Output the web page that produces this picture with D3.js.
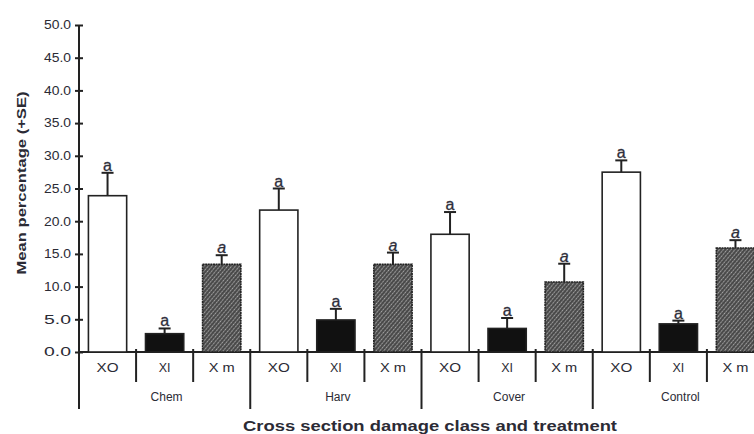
<!DOCTYPE html>
<html><head><meta charset="utf-8">
<script src="https://cdn.jsdelivr.net/npm/d3@7"></script>
<style>body{margin:0;background:#fff}svg{display:block}text{font-family:"Liberation Sans",Arial,sans-serif;fill:#2b2b35}</style>
</head><body><svg id="c" width="754" height="434"></svg>
<script>
const groups = ["Chem","Harv","Cover","Control"];
const classes = ["XO","XI","X m"];
const means = {
  "XO": [23.9, 21.7, 18.0, 27.5],
  "XI": [2.8, 4.9, 3.6, 4.3],
  "X m": [13.4, 13.4, 10.7, 15.9]
};
const upper = {
  "XO": [27.4, 25.0, 21.4, 29.3],
  "XI": [3.6, 6.6, 5.2, 4.8],
  "X m": [14.8, 15.2, 13.5, 17.1]
};
const letters = ["a","a","a","a"];
const yTicks = [0,5,10,15,20,25,30,35,40,45,50];

const svg = d3.select("#c");
const defs = svg.append("defs");
const pat = defs.append("pattern").attr("id","hatch").attr("patternUnits","userSpaceOnUse")
  .attr("width",3).attr("height",3).attr("patternTransform","rotate(-50)");
pat.append("rect").attr("width",3).attr("height",3).attr("fill","#4a4a4a");
pat.append("rect").attr("width",1.5).attr("height",1).attr("fill","#a8a8a8");
pat.append("rect").attr("x",1.5).attr("width",1.5).attr("height",1).attr("fill","#7a7a7a");

const x0 = d3.scaleBand().domain(groups).range([79, 764]);
const x1 = d3.scaleBand().domain(classes).range([0, x0.bandwidth()]).paddingInner(0.33).paddingOuter(0.165);
const y = d3.scaleLinear().domain([0,50]).range([352,25]);

const fills = {"XO":"#fff","XI":"#111","X m":"url(#hatch)"};

// y axis
const ya = svg.append("g").attr("transform","translate(79,0)")
  .call(d3.axisLeft(y).tickValues(yTicks).tickFormat(d3.format(".1f")).tickSize(4).tickPadding(4));
ya.select(".domain").remove();
ya.selectAll(".tick line").attr("x1",-4).attr("x2",4).attr("stroke","#222").attr("stroke-width",2);
ya.selectAll(".tick text").attr("font-size",12).attr("textLength",27).attr("lengthAdjust","spacingAndGlyphs")
  .attr("fill","#3a3a50").style("font-family","Liberation Sans, Arial");
svg.append("line").attr("x1",79).attr("x2",79).attr("y1",y(50)).attr("y2",409).attr("stroke","#222").attr("stroke-width",2);

// baseline
svg.append("line").attr("x1",79).attr("x2",754).attr("y1",y(0)).attr("y2",y(0)).attr("stroke","#222").attr("stroke-width",2);

// bars
groups.forEach((g,gi)=>{
  const gx = x0(g);
  classes.forEach(c=>{
    const bx = gx + x1(c), bw = x1.bandwidth();
    const v = means[c][gi], u = upper[c][gi];
    const cx = bx + bw/2;
    svg.append("line").attr("x1",cx).attr("x2",cx).attr("y1",y(v)).attr("y2",y(u)).attr("stroke","#222").attr("stroke-width",2);
    svg.append("line").attr("x1",cx-6).attr("x2",cx+6).attr("y1",y(u)).attr("y2",y(u)).attr("stroke","#222").attr("stroke-width",2);
    svg.append("rect").attr("x",bx).attr("y",y(v)).attr("width",bw).attr("height",y(0)-y(v))
      .attr("fill",fills[c]).attr("stroke","#222").attr("stroke-width",1.6)
      .attr("stroke-dasharray", c==="X m" ? "2,0.6" : null);
    svg.append("text").attr("x",cx).attr("y",y(u)-2).attr("text-anchor","middle").attr("font-size",16)
      .attr("font-style", c==="X m" ? "italic" : "normal").attr("fill","#3a3a4a")
      .attr("stroke","#3a3a4a").attr("stroke-width",0.3).text(letters[gi]);
    const t = svg.append("text").attr("x",cx).attr("y",372).attr("text-anchor","middle").attr("font-size",12.5)
      .attr("fill","#3a3a50").text(c);
    if (c==="XO") t.attr("textLength",22).attr("lengthAdjust","spacingAndGlyphs");
    if (c==="X m") t.attr("textLength",26).attr("lengthAdjust","spacingAndGlyphs");
  });
  // minor ticks
  [1,2].forEach(k=>{
    const tx = gx + x1.step()*k;
    svg.append("line").attr("x1",tx).attr("x2",tx).attr("y1",349).attr("y2",382).attr("stroke","#222").attr("stroke-width",2);
  });
  if (gi>0) svg.append("line").attr("x1",gx).attr("x2",gx).attr("y1",349).attr("y2",409).attr("stroke","#222").attr("stroke-width",2);
  svg.append("text").attr("x",gx + x0.bandwidth()/2 + 2).attr("y",401).attr("text-anchor","middle").attr("font-size",12)
    .attr("fill","#3a3a50").text(g);
});

// axis titles
svg.append("text").attr("transform","translate(26,183) rotate(-90)").attr("text-anchor","middle")
  .attr("font-size",13).attr("font-weight","bold").attr("fill","#1a1a22")
  .attr("textLength",183).attr("lengthAdjust","spacingAndGlyphs").text("Mean percentage (+SE)");
svg.append("text").attr("x",430).attr("y",431).attr("text-anchor","middle")
  .attr("font-size",15).attr("font-weight","bold").attr("fill","#1a1a22")
  .attr("textLength",374).attr("lengthAdjust","spacingAndGlyphs").text("Cross section damage class and treatment");
</script></body></html>
